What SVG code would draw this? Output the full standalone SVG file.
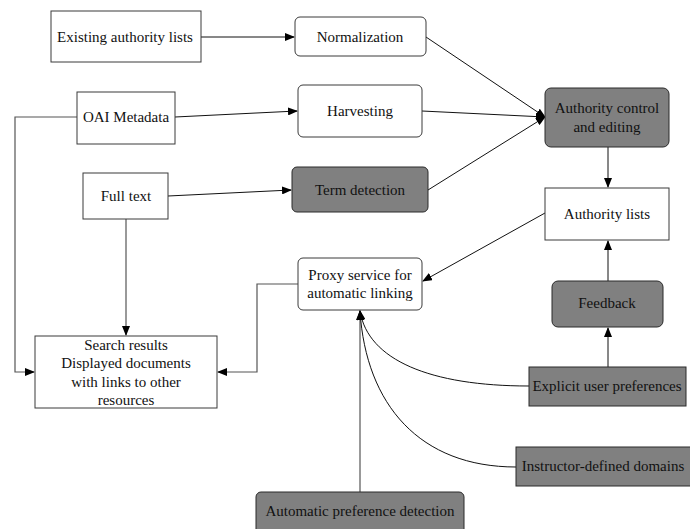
<svg xmlns="http://www.w3.org/2000/svg" width="690" height="529" viewBox="0 0 690 529">
<defs>
<style>
.box{fill:#ffffff;stroke:#3a3a3a;stroke-width:1}
.dark{fill:#808080;stroke:#2a2a2a;stroke-width:1}
.t{font-family:'Liberation Serif','Times New Roman',serif;font-size:15px;fill:#111111;text-anchor:middle}
.c{fill:none;stroke:#111111;stroke-width:1}
.g{fill:none;stroke:#555555;stroke-width:1.2}
</style>
<marker id="ah" markerWidth="10" markerHeight="8" refX="9" refY="4" orient="auto" markerUnits="userSpaceOnUse">
<path d="M0,0 L10,4 L0,8 Z" fill="#000000"/>
</marker>
</defs>
<rect width="690" height="529" fill="#ffffff"/>
<g id="connectors">
<line class="c" x1="201" y1="37" x2="294" y2="37" marker-end="url(#ah)"/>
<line class="c" x1="175" y1="117" x2="297" y2="111" marker-end="url(#ah)"/>
<line class="c" x1="168" y1="196" x2="291" y2="190" marker-end="url(#ah)"/>
<line class="c" x1="426" y1="37" x2="545" y2="117" marker-end="url(#ah)"/>
<line class="c" x1="422" y1="111" x2="545" y2="117" marker-end="url(#ah)"/>
<line class="c" x1="428" y1="190" x2="545" y2="117" marker-end="url(#ah)"/>
<line class="c" x1="608" y1="147" x2="608" y2="187" marker-end="url(#ah)"/>
<line class="c" x1="545" y1="213" x2="423" y2="281" marker-end="url(#ah)"/>
<line class="c" x1="608" y1="281" x2="608" y2="241" marker-end="url(#ah)"/>
<line class="c" x1="608" y1="367" x2="608" y2="328" marker-end="url(#ah)"/>
<polyline class="g" points="77,117 15,117 15,372 34,372" marker-end="url(#ah)"/>
<line class="g" x1="126" y1="219" x2="126" y2="335" marker-end="url(#ah)"/>
<polyline class="g" points="298,284 257,284 257,372 218,372" marker-end="url(#ah)"/>
<line class="g" x1="360" y1="492" x2="360" y2="311" marker-end="url(#ah)"/>
<path class="c" d="M529,386 C430,386 368,360 360,311" marker-end="url(#ah)"/>
<path class="c" d="M516,467 C420,467 366,405 360,311" marker-end="url(#ah)"/>
</g>
<g id="existing">
<rect class="box" x="51" y="11" width="150" height="51"/>
<text class="t" x="125" y="42">Existing authority lists</text>
</g>
<g id="normalization">
<rect class="box" x="295" y="17" width="131" height="39" rx="5"/>
<text class="t" x="360" y="42">Normalization</text>
</g>
<g id="oai">
<rect class="box" x="77" y="92" width="98" height="52"/>
<text class="t" x="126" y="122">OAI Metadata</text>
</g>
<g id="harvesting">
<rect class="box" x="298" y="85" width="124" height="52" rx="5"/>
<text class="t" x="360" y="116">Harvesting</text>
</g>
<g id="fulltext">
<rect class="box" x="83" y="173" width="85" height="46"/>
<text class="t" x="126" y="201">Full text</text>
</g>
<g id="termdetection">
<rect class="dark" x="292" y="167" width="136" height="45" rx="5"/>
<text class="t" x="360" y="195">Term detection</text>
</g>
<g id="authoritycontrol">
<rect class="dark" x="545" y="88" width="124" height="59" rx="6"/>
<text class="t" x="607" y="113">Authority control</text>
<text class="t" x="607" y="132">and editing</text>
</g>
<g id="authoritylists">
<rect class="box" x="545" y="188" width="124" height="52"/>
<text class="t" x="607" y="219">Authority lists</text>
</g>
<g id="proxy">
<rect class="box" x="298" y="258" width="124" height="52" rx="5"/>
<text class="t" x="360" y="280">Proxy service for</text>
<text class="t" x="360" y="298">automatic linking</text>
</g>
<g id="searchresults">
<rect class="box" x="35" y="336" width="182" height="72"/>
<text class="t" x="126" y="350">Search results</text>
<text class="t" x="126" y="368">Displayed documents</text>
<text class="t" x="126" y="387">with links to other</text>
<text class="t" x="126" y="405">resources</text>
</g>
<g id="feedback">
<rect class="dark" x="552" y="281" width="111" height="46" rx="6"/>
<text class="t" x="607" y="308">Feedback</text>
</g>
<g id="explicit">
<rect class="dark" x="529" y="367" width="157" height="39"/>
<text class="t" x="607" y="391">Explicit user preferences</text>
</g>
<g id="instructor">
<rect class="dark" x="516" y="447" width="175" height="39"/>
<text class="t" x="603" y="471">Instructor-defined domains</text>
</g>
<g id="autopref">
<rect class="dark" x="256" y="492" width="208" height="45" rx="5"/>
<text class="t" x="360" y="516">Automatic preference detection</text>
</g>
</svg>
